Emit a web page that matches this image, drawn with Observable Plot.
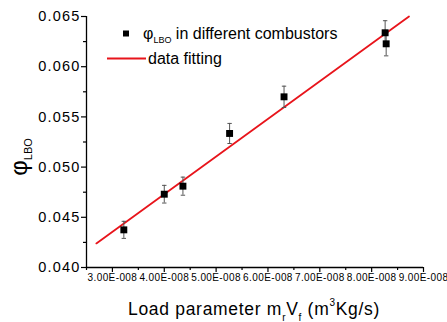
<!DOCTYPE html>
<html>
<head>
<meta charset="utf-8">
<script src="https://cdn.jsdelivr.net/npm/d3@7"></script>
<script src="https://cdn.jsdelivr.net/npm/@observablehq/plot@0.6"></script>
<style>
  html, body { margin: 0; padding: 0; background: #fff; }
  #chart { width: 447px; height: 322px; }
  svg { font-family: "Liberation Sans", Arial, sans-serif; }
</style>
</head>
<body>
<div id="chart"></div>
<script>
// ---- data ----
const loadParam = [3.22e-8, 4.0e-8, 4.36e-8, 5.26e-8, 6.31e-8, 8.26e-8, 8.28e-8];
const phiLBO    = [0.04375, 0.0473, 0.0481, 0.05335, 0.05700, 0.06338, 0.06228];
const phiErr    = [0.00085, 0.00088, 0.0009, 0.0010, 0.00106, 0.0012, 0.0012];
const fitX = [2.69e-8, 8.72e-8];
const fitY = [0.0424, 0.0650];
const xMajor = [3e-8, 4e-8, 5e-8, 6e-8, 7e-8, 8e-8, 9e-8];
const xTickLabels = ["3.00E-008","4.00E-008","5.00E-008","6.00E-008","7.00E-008","8.00E-008","9.00E-008"];
const xMinor = [2.5e-8, 3.5e-8, 4.5e-8, 5.5e-8, 6.5e-8, 7.5e-8, 8.5e-8];
const yMajor = [0.040, 0.045, 0.050, 0.055, 0.060, 0.065];
const yTickLabels = ["0.040","0.045","0.050","0.055","0.060","0.065"];
const yMinor = [0.0425, 0.0475, 0.0525, 0.0575, 0.0625];
const xDomain = [2.5e-8, 9e-8];
const yDomain = [0.040, 0.065];

const points = loadParam.map((x, i) => ({x, y: phiLBO[i], e: phiErr[i]}));
const fit = fitX.map((x, i) => ({x, y: fitY[i]}));

const capSymbol = {
  draw(ctx, size) {
    const r = Math.sqrt(size / Math.PI);
    ctx.moveTo(-r, 0);
    ctx.lineTo(r, 0);
  }
};

const RED = "#e8141b";

const plot = Plot.plot({
  width: 447,
  height: 322,
  marginLeft: 86,
  marginRight: 24,
  marginTop: 16,
  marginBottom: 55,
  x: {domain: xDomain, label: null},
  y: {domain: yDomain, label: null},
  style: {fontFamily: "Liberation Sans, Arial, sans-serif", color: "#000", background: "#fff"},
  marks: [
    Plot.axisX({ticks: xMinor, tickSize: 3, tickFormat: () => "", strokeWidth: 1.2, label: null}),
    Plot.axisX({ticks: xMajor, tickSize: 5, tickPadding: 1, strokeWidth: 1.2,
      tickFormat: (d) => xTickLabels[xMajor.indexOf(d)], label: null}),
    Plot.axisY({ticks: yMinor, tickSize: 3, tickFormat: () => "", strokeWidth: 1.2, label: null}),
    Plot.axisY({ticks: yMajor, tickSize: 5, tickPadding: 1, strokeWidth: 1.2,
      tickFormat: (d) => yTickLabels[yMajor.indexOf(d)], label: null}),
    Plot.ruleY([yDomain[0]], {stroke: "#000", strokeWidth: 1.3}),
    Plot.ruleX([xDomain[0]], {stroke: "#000", strokeWidth: 1.3}),
    Plot.line(fit, {x: "x", y: "y", stroke: RED, strokeWidth: 1.8}),
    Plot.ruleX(points, {x: "x", y1: d => d.y - d.e, y2: d => d.y + d.e, stroke: "#555", strokeWidth: 1}),
    Plot.dot(points, {x: "x", y: d => d.y + d.e, symbol: capSymbol, r: 2.2, stroke: "#555", strokeWidth: 1}),
    Plot.dot(points, {x: "x", y: d => d.y - d.e, symbol: capSymbol, r: 2.2, stroke: "#555", strokeWidth: 1}),
    Plot.dot(points, {x: "x", y: "y", symbol: "square", r: 3.9, fill: "#000", stroke: "none"})
  ]
});

document.getElementById("chart").appendChild(plot);

const svg = d3.select(plot);
svg.selectAll('g[aria-label="x-axis tick label"]').attr("font-size", 10);
svg.selectAll('g[aria-label="x-axis tick label"] text')
  .attr("letter-spacing", 0.4).attr("fill", "#000");
svg.selectAll('g[aria-label="y-axis tick label"]').attr("font-size", 14.5);
svg.selectAll('g[aria-label="y-axis tick label"] text')
  .attr("letter-spacing", 1.2).attr("fill", "#000");

// x axis title
const xl = svg.append("text")
  .attr("x", 254).attr("y", 315)
  .attr("text-anchor", "middle")
  .attr("font-size", 17.5).attr("letter-spacing", 0.7).attr("fill", "#000");
xl.append("tspan").text("Load parameter m");
xl.append("tspan").attr("font-size", 10).attr("dy", 6).text("r");
xl.append("tspan").attr("dy", -6).text("V");
xl.append("tspan").attr("font-size", 10).attr("dy", 6).text("f");
xl.append("tspan").attr("dy", -6).text(" (m");
xl.append("tspan").attr("font-size", 10).attr("dy", -9).text("3");
xl.append("tspan").attr("dy", 9).text("Kg/s)");

// y axis title
const yl = svg.append("text")
  .attr("transform", "translate(27,157) rotate(-90)")
  .attr("text-anchor", "middle")
  .attr("font-size", 24).attr("fill", "#000");
yl.append("tspan").text("φ");
yl.append("tspan").attr("font-size", 11).attr("dy", 5).text("LBO");

// legend
const lg = svg.append("g").attr("text-anchor", "start");
lg.append("rect").attr("x", 123).attr("y", 30.5).attr("width", 6).attr("height", 6).attr("fill", "#000");
const lt = lg.append("text").attr("x", 143).attr("y", 39).attr("font-size", 16)
  .attr("text-anchor", "start").attr("fill", "#000");
lt.append("tspan").text("φ");
lt.append("tspan").attr("font-size", 9).attr("dy", 4).text("LBO");
lt.append("tspan").attr("dy", -4).text(" in different combustors");
lg.append("line").attr("x1", 107).attr("x2", 146).attr("y1", 58.5).attr("y2", 58.5)
  .attr("stroke", RED).attr("stroke-width", 1.8);
lg.append("text").attr("x", 148).attr("y", 64).attr("font-size", 16)
  .attr("text-anchor", "start").attr("fill", "#000").text("data fitting");
</script>
</body>
</html>
